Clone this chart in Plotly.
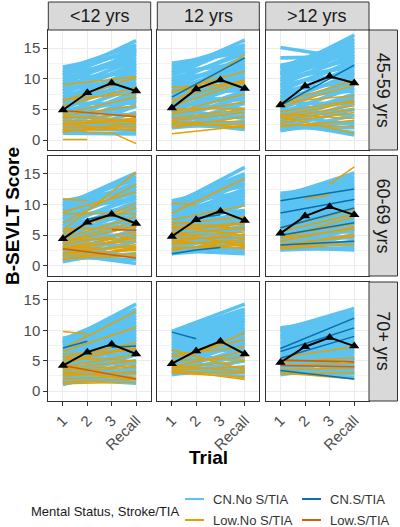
import plotly.graph_objects as go

W, H = 400, 527

# ---------------- data ----------------
age_groups = ["45-59 yrs", "60-69 yrs", "70+ yrs"]
edu_groups = ["<12 yrs", "12 yrs", ">12 yrs"]
trial_labels = ["1", "2", "3", "Recall"]
trial_pos = [1, 2, 3, 4]
y_ticks = [0, 5, 10, 15]

group_names = ["CN.No S/TIA", "CN.S/TIA", "Low.No S/TIA", "Low.S/TIA"]
group_colors = ["#5BC3F1", "#0A6FAE", "#E69F00", "#D55E00"]

# mean score per trial (black line), per education group
mean_4559 = [[4.9, 7.7, 9.3, 8.0], [5.2, 8.3, 9.8, 8.4], [5.7, 8.8, 10.4, 9.3]]
mean_6069 = [[4.4, 7.1, 8.4, 6.9], [4.8, 7.5, 8.9, 7.4], [5.3, 8.1, 9.6, 8.3]]
mean_70p = [[4.2, 6.4, 7.7, 6.1], [4.5, 6.6, 8.2, 6.1], [4.7, 7.3, 8.8, 7.4]]

# individual trajectories: [trial 1, recall] or [t1, t2, t3, recall] (None = missing)
cn_no_4559 = [
    [[11.9, 14.2], [10.6, 16.2], [11.5, 15.5], [11.0, 14.8], [10.5, 15.0], [10.0, 14.0], [9.5, 13.5],
     [9.0, 14.5], [8.5, 13.0], [8.0, 12.0], [7.5, 12.5], [7.0, 11.0], [6.5, 11.5], [6.0, 10.5],
     [5.5, 9.5], [5.0, 10.0], [4.5, 8.5], [4.0, 9.0], [3.5, 7.5], [3.0, 8.0], [2.5, 6.5], [2.0, 7.0],
     [1.5, 5.5], [1.2, 4.5], [1.1, 3.5], [1.5, 2.5], [2.0, 1.5], [1.1, 1.0], [3.0, 2.0], [4.0, 3.0],
     [6.0, 6.0], [8.5, 9.0], [10.0, 11.0], [5.0, 4.0], [3.5, 5.5], [7.0, 8.0], [9.0, 11.5],
     [11.0, 12.5], [2.5, 3.0], [4.5, 6.5], [6.5, 9.0], [8.0, 10.5]],
    [[12.5, 14.3], [11.0, 16.3], [12.0, 15.5], [11.5, 15.0], [10.5, 15.5], [10.0, 14.0], [9.5, 14.5],
     [9.0, 13.0], [8.5, 13.5], [8.0, 12.5], [7.5, 12.0], [7.0, 11.0], [6.5, 11.5], [6.0, 10.5],
     [5.5, 10.0], [5.0, 9.0], [4.5, 9.5], [4.0, 8.0], [3.5, 7.0], [3.0, 7.5], [2.5, 6.0], [2.0, 5.0],
     [2.2, 4.0], [2.0, 3.0], [2.5, 2.0], [3.0, 1.7], [4.0, 2.5], [5.0, 3.5], [6.0, 5.0], [7.0, 6.5],
     [8.0, 8.0], [9.0, 10.0], [10.0, 11.5], [11.0, 12.5], [3.5, 4.5], [4.5, 6.0], [5.5, 7.0],
     [6.5, 8.5], [7.5, 9.5], [8.5, 11.0], [9.5, 12.0]],
    [[15.1, 13.2], [13.4, 13.6], [12.2, 14.5], [11.0, 17.1], [11.8, 16.5], [11.5, 16.0], [10.8, 15.5],
     [10.5, 15.0], [10.0, 14.5], [9.5, 13.5], [9.0, 14.0], [8.5, 12.5], [8.0, 13.0], [7.5, 11.5],
     [7.0, 12.0], [6.5, 10.5], [6.0, 11.0], [5.5, 9.5], [5.0, 10.0], [4.5, 8.5], [4.0, 9.0],
     [3.5, 7.5], [3.0, 7.0], [2.5, 6.0], [2.0, 5.0], [1.5, 4.0], [1.6, 3.0], [2.0, 2.0], [2.5, 1.2],
     [3.0, 0.8], [4.0, 2.5], [5.0, 4.0], [6.0, 6.0], [7.0, 8.0], [8.0, 9.5], [9.0, 11.0],
     [10.0, 12.0], [11.0, 13.0], [3.5, 5.0], [4.5, 6.5], [12.0, 15.0]],
]
cn_no_6069 = [
    [[10.6, 12.5], [9.8, 15.1], [10.2, 14.0], [9.5, 14.5], [9.0, 13.5], [8.5, 13.0], [8.0, 12.0],
     [7.5, 12.5], [7.0, 11.0], [6.5, 11.5], [6.0, 10.0], [5.5, 10.5], [5.0, 9.0], [4.5, 9.5],
     [4.0, 8.0], [3.5, 8.5], [3.0, 7.0], [2.5, 7.5], [2.0, 6.0], [1.5, 5.0], [1.0, 4.0], [0.7, 3.0],
     [1.0, 2.0], [1.5, 1.0], [2.0, 0.4], [3.0, 1.5], [4.0, 3.0], [5.0, 5.0], [6.0, 6.5], [7.0, 8.0],
     [8.0, 9.5], [9.0, 11.0], [10.0, 13.0], [2.5, 4.5], [3.5, 5.5], [4.5, 6.5], [5.5, 7.5],
     [6.5, 9.0]],
    [[10.6, 13.0], [9.8, 16.0], [10.2, 15.0], [9.5, 14.5], [9.0, 14.0], [8.5, 13.5], [8.0, 12.5],
     [7.5, 12.0], [7.0, 11.5], [6.5, 11.0], [6.0, 10.5], [5.5, 10.0], [5.0, 9.0], [4.5, 8.5],
     [4.0, 8.0], [3.5, 7.5], [3.0, 6.5], [2.5, 6.0], [2.0, 5.0], [2.2, 4.0], [2.0, 3.0], [2.5, 2.0],
     [3.0, 2.5], [4.0, 3.5], [5.0, 4.5], [6.0, 6.0], [7.0, 7.0], [8.0, 9.0], [9.0, 11.0],
     [10.0, 12.0], [3.5, 5.0], [4.5, 6.5], [5.5, 7.5], [6.5, 8.5], [7.5, 10.0], [8.5, 11.5]],
    [[11.8, 13.0], [11.2, 15.1], [11.5, 14.5], [11.0, 14.0], [10.5, 13.5], [10.0, 13.0], [9.5, 12.5],
     [9.0, 12.0], [8.5, 11.5], [8.0, 11.0], [7.5, 10.5], [7.0, 10.0], [6.5, 9.5], [6.0, 9.0],
     [5.5, 8.5], [5.0, 8.0], [4.5, 7.5], [4.0, 7.0], [3.5, 6.5], [3.0, 6.0], [2.6, 5.0], [2.8, 4.0],
     [2.6, 3.0], [3.0, 2.6], [4.0, 3.5], [5.0, 4.5], [6.0, 5.5], [7.0, 7.0], [8.0, 8.0], [9.0, 9.5],
     [10.0, 11.0], [3.5, 5.0], [4.5, 6.0], [5.5, 7.5], [6.5, 8.5]],
]
cn_no_70p = [
    [[8.7, 11.0], [8.0, 14.3], [8.5, 13.5], [8.2, 13.0], [7.8, 12.5], [7.5, 12.0], [7.0, 11.5],
     [6.5, 11.0], [6.0, 10.5], [5.5, 10.0], [5.0, 9.5], [4.5, 9.0], [4.0, 8.5], [3.5, 8.0],
     [3.0, 7.0], [2.5, 6.5], [2.0, 6.0], [1.5, 5.0], [1.1, 4.0], [1.2, 3.0], [1.5, 2.0], [2.0, 1.3],
     [3.0, 2.0], [4.0, 3.0], [5.0, 4.5], [6.0, 6.0], [7.0, 7.5], [8.0, 9.0], [2.5, 3.5], [3.5, 5.0],
     [4.5, 6.0], [5.5, 7.0], [6.5, 8.5], [7.5, 10.0]],
    [[9.8, 14.3], [9.5, 13.5], [9.0, 13.0], [8.5, 12.5], [8.0, 12.0], [7.5, 11.5], [7.0, 11.0],
     [6.5, 10.5], [6.0, 10.0], [5.5, 9.5], [5.0, 9.0], [4.5, 8.5], [4.0, 8.0], [3.5, 7.0],
     [3.0, 6.0], [2.7, 5.0], [3.0, 4.0], [3.5, 3.0], [4.0, 2.3], [5.0, 3.5], [6.0, 5.0], [7.0, 6.5],
     [8.0, 8.0], [9.0, 10.0], [2.8, 3.5], [4.5, 6.0], [5.5, 7.5], [9.5, 11.5], [8.5, 9.5],
     [6.5, 8.0]],
    [[10.4, 11.8], [10.0, 13.6], [10.2, 13.0], [9.8, 12.5], [9.5, 12.0], [9.0, 11.5], [8.5, 11.0],
     [8.0, 10.5], [7.5, 10.0], [7.0, 9.5], [6.5, 9.0], [6.0, 8.5], [5.5, 8.0], [5.0, 7.5],
     [4.5, 7.0], [4.0, 6.5], [3.5, 6.0], [3.0, 5.5], [2.7, 4.5], [3.0, 3.5], [3.2, 2.8], [3.5, 2.2],
     [4.0, 3.0], [5.0, 4.0], [6.0, 5.0], [7.0, 6.5], [8.0, 8.0], [9.0, 9.5], [2.8, 4.0], [4.5, 5.5]],
]

cn_s_4559 = [[], [[7.0, 13.4]], [[5.6, 12.2]]]
cn_s_6069 = [[[None, 7.6, 8.3, None]], [[2.0, 2.6, 3.0, None], [None, 7.8, 8.3, None]],
             [[10.6, 12.5], [8.6, 10.8], [6.2, 9.4], [5.0, 7.0], [3.4, 4.0]]]
cn_s_70p = [[[7.1, 8.2, None, None], [None, None, 7.2, 7.4]], [[9.7, 8.6, None, None]],
            [[7.0, 12.0], [6.5, 10.4], [5.4, 9.0], [3.4, 2.0]]]

low_no_4559 = [
    [[9.0, 10.3], [6.4, 10.2], [5.6, 8.6], [6.6, 7.6], [4.3, 7.0], [4.0, 5.6], [3.6, 4.2], [3.2, 3.0],
     [2.8, 2.6], [2.4, 3.6], [2.0, 2.2], [1.6, 1.8], [1.3, 2.8], [3.8, 3.2], [2.6, 1.5],
     [1.8, 1.3, 1.2, -0.6], [0.1, 0.1, None, None]],
    [[8.6, 9.2], [6.0, 13.9], [7.8, 11.2], [6.5, 9.8], [5.5, 9.5], [5.1, 5.1], [4.5, 7.5], [4.2, 6.2],
     [3.5, 5.0], [3.2, 4.5], [2.8, 3.0], [2.5, 2.5], [1.0, 2.3], [3.0, 2.0], [2.0, 3.8], [8.0, 9.6]],
    [[6.0, 9.8], [5.4, 9.0], [6.2, 7.2], [4.6, 6.5], [4.0, 6.2], [3.6, 5.6], [3.2, 5.0], [2.8, 4.5],
     [3.8, 1.1], [2.5, 2.2], [4.2, 3.5], [2.2, 3.2]],
]
low_no_6069 = [
    [[10.9, 10.6, None, None], [8.8, 12.0], [7.0, 13.2], [5.8, 15.2], [5.5, 9.5], [5.0, 10.2],
     [4.5, 8.0], [4.0, 7.2], [3.8, 6.5], [3.5, 5.5], [3.0, 5.0], [3.0, 4.0], [2.6, 4.6], [2.5, 3.2],
     [2.0, 3.5], [2.0, 2.5], [1.6, 2.0], [1.2, 1.6], [1.0, 3.0], [4.2, 4.5], [6.0, 6.2], [3.2, 2.6],
     [8.5, 8.5]],
    [[8.6, 14.2], [10.2, 10.0, None, None], [7.5, 9.8], [6.8, 8.0], [6.2, 7.0], [5.8, 6.8],
     [5.2, 6.2], [4.8, 5.5], [4.5, 4.6], [4.0, 5.2], [3.8, 3.8], [3.5, 4.2], [3.0, 3.0], [2.8, 3.5],
     [4.2, 2.8], [5.5, 3.2], [6.5, 5.0], [2.5, 4.4], [7.0, 6.0]],
    [[None, None, 13.3, 16.1], [None, 11.0, 11.5, None], [6.2, 9.2], [5.6, 8.4], [5.0, 6.8],
     [4.5, 6.0], [4.0, 6.3], [3.2, 5.2], [3.0, 4.0], [2.8, 3.5], [3.5, 4.8], [4.5, 8.0]],
]
low_no_70p = [
    [[9.8, 9.4, None, None], [7.0, 13.1], [6.5, 10.5], [5.5, 8.0], [5.0, 7.0], [4.5, 7.5], [4.0, 6.0],
     [3.8, 5.0], [3.5, 4.2], [3.0, 4.0], [2.8, 3.0], [2.5, 3.2], [2.0, 2.5], [1.5, 2.0], [1.2, 1.5],
     [5.5, 5.0], [6.0, 6.8], [3.2, 2.0]],
    [[4.6, 9.6], [6.8, 3.5], [5.5, 8.5], [4.0, 6.5], [3.8, 5.0], [3.5, 4.0], [3.2, 3.0], [3.0, 2.3],
     [5.0, 5.5], [6.0, 7.2], [4.2, 3.2], [3.5, 1.9]],
    [[5.5, 7.3], [4.2, 4.6], [3.5, 3.8], [3.0, 2.0], [2.8, 3.0], [4.8, 5.5]],
]

low_s_4559 = [[[4.8, 3.8]], [], []]
low_s_6069 = [[[2.8, 1.3], [None, None, 5.9, 5.8]], [], []]
low_s_70p = [[[4.2, 2.0]], [], [[5.1, 4.8], [4.2, 4.0]]]

means = [mean_4559, mean_6069, mean_70p]
groups = [
    [cn_no_4559, cn_no_6069, cn_no_70p],
    [cn_s_4559, cn_s_6069, cn_s_70p],
    [low_no_4559, low_no_6069, low_no_70p],
    [low_s_4559, low_s_6069, low_s_70p],
]
group_widths = [3.6, 1.5, 1.5, 1.6]
draw_order = [0, 2, 1, 3]

# ---------------- layout geometry (pixels) ----------------
col_px = [(48.3, 150.7), (157.3, 259.3), (265.7, 369.0)]
row_px = [(30.0, 150.0), (155.5, 276.0), (282.0, 401.0)]
strip_top = (2.0, 30.0)
strip_right = (369.0, 397.5)
y_range = [-1.63, 17.94]
x_range = [0.4, 4.6]

FONT = "Liberation Sans, Arial, sans-serif"


def px_x(x):
    return x / W


def px_y(y):
    return 1 - y / H


fig = go.Figure()
layout = {}

for r in range(3):
    for c in range(3):
        n = r * 3 + 1 + c
        xa = "x" if n == 1 else f"x{n}"
        ya = "y" if n == 1 else f"y{n}"
        for g in draw_order:
            lines = groups[g][r][c]
            xs, ys = [], []
            for ln in lines:
                pos = [1, 4] if len(ln) == 2 else trial_pos
                xs += list(pos) + [None]
                ys += list(ln) + [None]
            if xs:
                fig.add_trace(go.Scatter(
                    x=xs, y=ys, mode="lines", xaxis=xa, yaxis=ya,
                    line=dict(color=group_colors[g], width=group_widths[g]),
                    connectgaps=False, showlegend=False, hoverinfo="skip"))
        fig.add_trace(go.Scatter(
            x=trial_pos, y=means[r][c], mode="lines+markers", xaxis=xa, yaxis=ya,
            line=dict(color="black", width=2),
            marker=dict(symbol="triangle-up", size=9, color="black"),
            showlegend=False, cliponaxis=False))

        x0, x1 = col_px[c]
        y0, y1 = row_px[r]
        xkey = "xaxis" if n == 1 else f"xaxis{n}"
        ykey = "yaxis" if n == 1 else f"yaxis{n}"
        layout[xkey] = dict(
            domain=[px_x(x0), px_x(x1)], anchor=ya, range=x_range,
            tickmode="array", tickvals=trial_pos, ticktext=trial_labels,
            showticklabels=(r == 2), ticks="outside" if r == 2 else "",
            ticklen=4, tickcolor="#333333", tickangle=-45,
            tickfont=dict(size=15, color="#4D4D4D", family=FONT),
            showgrid=True, gridcolor="#EBEBEB", gridwidth=1,
            zeroline=False, showline=True, linecolor="#333333", linewidth=1, mirror=True,
        )
        layout[ykey] = dict(
            domain=[px_y(y1), px_y(y0)], anchor=xa, range=y_range,
            tickmode="array", tickvals=y_ticks,
            showticklabels=(c == 0), ticks="outside" if c == 0 else "",
            ticklen=4, tickcolor="#333333",
            tickfont=dict(size=15, color="#4D4D4D", family=FONT),
            showgrid=True, gridcolor="#EBEBEB", gridwidth=1,
            minor=dict(tickmode="array", tickvals=[2.5, 7.5, 12.5], showgrid=True,
                       gridcolor="#F2F2F2", gridwidth=0.6, ticks=""),
            zeroline=False, showline=True, linecolor="#333333", linewidth=1, mirror=True,
        )

shapes = []
annotations = []
# top strips
for c in range(3):
    x0, x1 = col_px[c]
    shapes.append(dict(type="rect", xref="paper", yref="paper",
                       x0=px_x(x0), x1=px_x(x1), y0=px_y(strip_top[1]), y1=px_y(strip_top[0]),
                       fillcolor="#D9D9D9", line=dict(color="#333333", width=1)))
    annotations.append(dict(text=edu_groups[c], xref="paper", yref="paper",
                            x=px_x((x0 + x1) / 2), y=px_y(sum(strip_top) / 2),
                            showarrow=False, xanchor="center", yanchor="middle",
                            font=dict(size=18, color="#1A1A1A", family=FONT)))
# right strips
for r in range(3):
    y0, y1 = row_px[r]
    shapes.append(dict(type="rect", xref="paper", yref="paper",
                       x0=px_x(strip_right[0]), x1=px_x(strip_right[1]), y0=px_y(y1), y1=px_y(y0),
                       fillcolor="#D9D9D9", line=dict(color="#333333", width=1)))
    annotations.append(dict(text=age_groups[r], xref="paper", yref="paper",
                            x=px_x(sum(strip_right) / 2), y=px_y((y0 + y1) / 2),
                            showarrow=False, xanchor="center", yanchor="middle", textangle=90,
                            font=dict(size=18, color="#1A1A1A", family=FONT)))

# axis titles
annotations.append(dict(text="<b>B-SEVLT Score</b>", xref="paper", yref="paper",
                        x=px_x(12), y=px_y(216), showarrow=False, textangle=-90,
                        xanchor="center", yanchor="middle",
                        font=dict(size=19, color="black", family=FONT)))
annotations.append(dict(text="<b>Trial</b>", xref="paper", yref="paper",
                        x=px_x(208.5), y=px_y(457), showarrow=False,
                        xanchor="center", yanchor="middle",
                        font=dict(size=19, color="black", family=FONT)))

# legend (drawn manually, two columns)
annotations.append(dict(text="Mental Status, Stroke/TIA", xref="paper", yref="paper",
                        x=px_x(29), y=px_y(511), showarrow=False,
                        xanchor="left", yanchor="middle",
                        font=dict(size=13, color="#1A1A1A", family=FONT)))
legend_slots = [(185, 499), (302, 499), (185, 520), (302, 520)]
for g, (lx, ly) in enumerate(legend_slots):
    shapes.append(dict(type="line", xref="paper", yref="paper",
                       x0=px_x(lx), x1=px_x(lx + 19), y0=px_y(ly), y1=px_y(ly),
                       line=dict(color=group_colors[g], width=2)))
    annotations.append(dict(text=group_names[g], xref="paper", yref="paper",
                            x=px_x(lx + 26), y=px_y(ly), showarrow=False,
                            xanchor="left", yanchor="middle",
                            font=dict(size=13, color="#333333", family=FONT)))

fig.update_layout(
    width=W, height=H, autosize=False,
    margin=dict(l=0, r=0, t=0, b=0),
    paper_bgcolor="white", plot_bgcolor="white",
    showlegend=False,
    shapes=shapes, annotations=annotations,
    font=dict(family=FONT),
    **layout,
)

fig.write_html("out.html", config={"displayModeBar": False},
               post_script="document.body.style.margin='0px';document.body.style.overflow='hidden';")
